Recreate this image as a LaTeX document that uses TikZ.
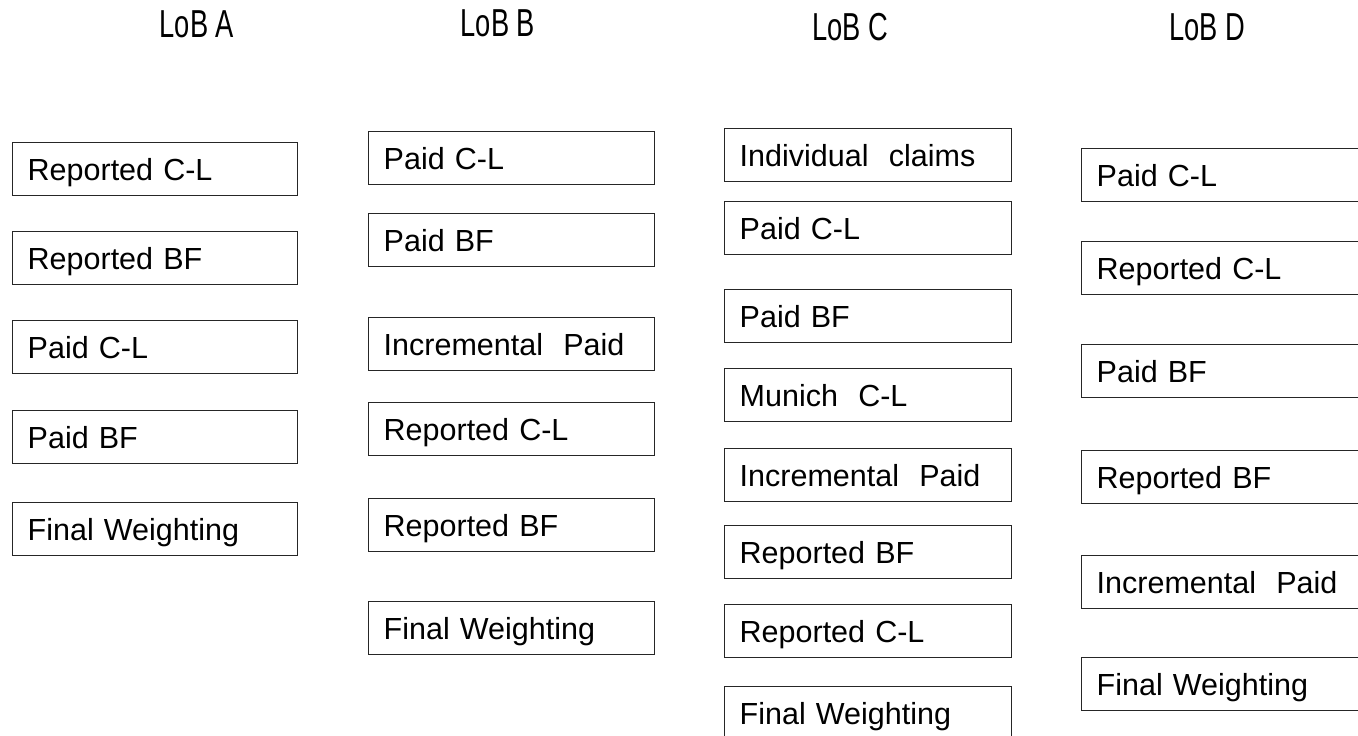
\documentclass[tikz,border=0pt]{standalone}
\usepackage{fontspec}
\setmainfont{Liberation Sans}
\begin{document}
\begin{tikzpicture}[x=1pt,y=-1pt,
  lobbox/.style={draw=black!85, line width=1.4pt, anchor=north west,
    minimum height=53pt, inner xsep=15pt, inner ysep=0pt,
    text height=22pt, text depth=0pt, align=left,
    font=\fontsize{30.5}{36}\selectfont},
  boxa/.style={lobbox, text width=255pt, minimum width=285pt},
  boxb/.style={lobbox, text width=256pt, minimum width=286pt},
  boxc/.style={lobbox, text width=257pt, minimum width=287pt},
  boxd/.style={lobbox, text width=260pt, minimum width=290pt},
  title/.style={anchor=base, inner sep=0pt, font=\fontsize{39}{46}\selectfont}]
\useasboundingbox (0,0) rectangle (1358,736);
\clip (0,0) rectangle (1358,736);
% titles
\node[title] (tA) at (197,37) {\scalebox{0.7}[1]{LoB A}};
\node[title] (tB) at (498,36) {\scalebox{0.7}[1]{LoB B}};
\node[title] (tC) at (850,40) {\scalebox{0.7}[1]{LoB C}};
\node[title] (tD) at (1207,40) {\scalebox{0.7}[1]{LoB D}};
% LoB A
\node[boxa] (a1) at (12,142) {Reported C-L};
\node[boxa] (a2) at (12,231) {Reported BF};
\node[boxa] (a3) at (12,320) {Paid C-L};
\node[boxa] (a4) at (12,410) {Paid BF};
\node[boxa] (a5) at (12,502) {Final Weighting};
% LoB B
\node[boxb] (b1) at (368,131) {Paid C-L};
\node[boxb] (b2) at (368,213) {Paid BF};
\node[boxb] (b3) at (368,317) {Incremental\ \ Paid};
\node[boxb] (b4) at (368,402) {Reported C-L};
\node[boxb] (b5) at (368,498) {Reported BF};
\node[boxb] (b6) at (368,601) {Final Weighting};
% LoB C
\node[boxc] (c1) at (724,128) {Individual\ \ claims};
\node[boxc] (c2) at (724,201) {Paid C-L};
\node[boxc] (c3) at (724,289) {Paid BF};
\node[boxc] (c4) at (724,368) {Munich\ \ C-L};
\node[boxc] (c5) at (724,448) {Incremental\ \ Paid};
\node[boxc] (c6) at (724,525) {Reported BF};
\node[boxc] (c7) at (724,604) {Reported C-L};
\node[boxc] (c8) at (724,686) {Final Weighting};
% LoB D
\node[boxd] (d1) at (1081,148) {Paid C-L};
\node[boxd] (d2) at (1081,241) {Reported C-L};
\node[boxd] (d3) at (1081,344) {Paid BF};
\node[boxd] (d4) at (1081,450) {Reported BF};
\node[boxd] (d5) at (1081,555) {Incremental\ \ Paid};
\node[boxd] (d6) at (1081,657) {Final Weighting};
\end{tikzpicture}
\end{document}
